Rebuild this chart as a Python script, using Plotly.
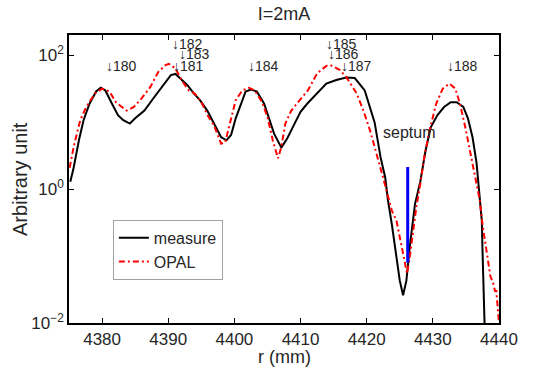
import plotly.graph_objects as go
import math

# ---- data ----
r_measure = [4375.2, 4375.7, 4376.5, 4377.2, 4378.1, 4379.1, 4379.8, 4380.5, 4381.5, 4382.4,
             4383.2, 4384.2, 4385.0, 4386.4, 4387.9, 4389.3, 4390.4, 4391.1, 4391.8, 4392.9,
             4393.9, 4394.8, 4395.9, 4396.9, 4398.0, 4398.8, 4399.5, 4400.2, 4401.0, 4401.7,
             4402.5, 4403.4, 4404.5, 4405.2, 4406.0, 4407.1, 4408.0, 4409.1, 4410.0, 4411.0,
             4412.5, 4413.9, 4415.4, 4416.9, 4418.2, 4419.7, 4421.2, 4422.1, 4422.8, 4423.2,
             4423.8, 4424.5, 4425.0, 4425.5, 4426.0, 4426.5, 4427.0, 4427.3, 4428.1, 4428.9,
             4429.7, 4430.7, 4431.7, 4432.7, 4433.6, 4434.6, 4435.3, 4436.0, 4436.6, 4437.1,
             4437.4, 4437.5, 4437.7, 4437.9]
i_measure = [1.3, 2.1, 5.4, 10.8, 19, 29, 33, 30, 19, 12.8,
             10.8, 9.6, 11.5, 15, 24, 36, 51, 53, 45, 36,
             27, 21.5, 15, 9.6, 6, 5.4, 6.5, 11.5, 19, 29,
             31, 29, 19, 11.5, 6.8, 4.2, 5.8, 9.6, 14.4, 19,
             27, 38, 43, 47, 46, 30, 10, 3.0, 1.5, 0.7,
             0.30, 0.095, 0.043, 0.026, 0.043, 0.135, 0.38, 0.6, 1.3, 3.8,
             8.5, 12.9, 17, 20, 20, 17, 11.5, 6, 2.5, 0.8,
             0.34, 0.13, 0.03, 0.005]

r_opal = [4375.1, 4375.7, 4376.7, 4377.6, 4378.9, 4380.0, 4381.1, 4382.1, 4383.0, 4383.7,
          4384.8, 4386.0, 4387.3, 4388.5, 4389.6, 4390.1, 4391.1, 4392.0, 4393.1, 4394.0,
          4395.0, 4396.1, 4396.9, 4398.0, 4398.6, 4399.3, 4400.2, 4401.2, 4402.2, 4403.1,
          4404.2, 4405.0, 4405.8, 4406.6, 4407.1, 4407.7, 4408.6, 4409.6, 4411.1, 4412.5,
          4413.9, 4414.5, 4415.9, 4416.9, 4417.8, 4418.5, 4419.5, 4420.5, 4421.2, 4421.8,
          4422.6, 4423.0, 4423.8, 4424.5, 4425.2, 4426.1, 4426.5, 4427.0, 4427.5, 4428.1,
          4428.7, 4429.5, 4430.5, 4431.5, 4432.5, 4433.4, 4434.1, 4434.9, 4435.6, 4436.3,
          4436.8, 4437.1, 4437.5, 4438.0, 4438.3, 4438.7, 4439.1, 4439.4, 4439.6, 4439.85,
          4440.0]
i_opal = [2.1, 4.3, 10.8, 17, 27, 32, 29, 20, 17, 15,
          17, 23, 34, 57, 72, 75, 64, 43, 30, 27,
          20, 12, 9.1, 4.8, 5.0, 9.6, 21.5, 30, 33, 30,
          20, 12, 5.4, 2.9, 4.3, 9.6, 15, 20, 30, 54,
          70, 72, 61, 48, 35, 27, 15, 7.6, 4.3, 2.7,
          1.35, 0.95, 0.48, 0.34, 0.15, 0.055, 0.095, 0.24, 0.54, 1.2,
          3, 7.6, 19, 32, 38, 32, 19, 8.5, 3.8, 1.9,
          1.0, 0.68, 0.30, 0.135, 0.085, 0.05, 0.04, 0.03, 0.03, 0.014,
          0.01]

septum_r = [4426.2, 4426.2]
septum_i = [2.15, 0.08]

turn_labels = ['↓180', '↓182', '↓183', '↓181', '↓184', '↓185', '↓186', '↓187', '↓188']
turn_r = [4380.8, 4390.75, 4391.75, 4390.85, 4402.2, 4414.1, 4414.4, 4416.3, 4432.3]
turn_i = [70, 150, 106, 70, 70, 150, 106, 70, 70]

x_ticks = [4380, 4390, 4400, 4410, 4420, 4430, 4440]
y_ticks = [0.01, 1, 100]
y_ticktext = ['10<sup>−2</sup>', '10<sup>0</sup>', '10<sup>2</sup>']

FONT = "Arial, Liberation Sans, Helvetica, sans-serif"
TXT = "#262626"

fig = go.Figure()
fig.add_trace(go.Scatter(x=r_measure, y=i_measure, mode='lines', name='measure',
                         line=dict(color='black', width=2)))
fig.add_trace(go.Scatter(x=r_opal, y=i_opal, mode='lines', name='OPAL',
                         line=dict(color='red', width=2, dash='6px,3px,2px,3px')))
fig.add_trace(go.Scatter(x=septum_r, y=septum_i, mode='lines', showlegend=False,
                         line=dict(color='blue', width=3)))

for lab, xr, yi in zip(turn_labels, turn_r, turn_i):
    fig.add_annotation(x=xr - 0.5, y=math.log10(yi), xref='x', yref='y', text=lab,
                       showarrow=False, xanchor='left', yanchor='middle',
                       font=dict(size=14, color=TXT, family=FONT))

fig.add_annotation(x=4426.4, y=math.log10(7.1), xref='x', yref='y', text='septum',
                   showarrow=False, xanchor='center', yanchor='middle',
                   font=dict(size=16, color=TXT, family=FONT))

# axis titles placed as paper annotations for precise placement
fig.add_annotation(x=0.5, y=-0.118, xref='paper', yref='paper', text='r (mm)',
                   showarrow=False, xanchor='center', yanchor='middle',
                   font=dict(size=18, color=TXT, family=FONT))
fig.add_annotation(x=-0.114, y=0.5, xref='paper', yref='paper', text='Arbitrary unit',
                   showarrow=False, xanchor='center', yanchor='middle', textangle=-90,
                   font=dict(size=20, color=TXT, family=FONT))

axis_common = dict(showline=True, linecolor='black', linewidth=1.5, mirror='ticks',
                   ticks='inside', ticklen=5, tickwidth=1, tickcolor='black',
                   showgrid=False, zeroline=False,
                   tickfont=dict(size=17, color=TXT, family=FONT))

fig.update_layout(
    width=547, height=369,
    margin=dict(l=69, r=48, t=35, b=46),
    paper_bgcolor='white', plot_bgcolor='white',
    title=dict(text='I=2mA', x=0.5, xref='paper', xanchor='center', y=0.962, yanchor='middle',
               font=dict(size=18, color=TXT, family=FONT)),
    xaxis=dict(range=[4375, 4440], tickvals=x_ticks, **axis_common),
    yaxis=dict(type='log', range=[-2, 2.307], tickvals=y_ticks, ticktext=y_ticktext,
               **axis_common),
    legend=dict(x=0.102, y=0.358, xanchor='left', yanchor='top',
                bordercolor='#a0a0a0', borderwidth=1, bgcolor='white',
                font=dict(size=16, color=TXT, family=FONT), itemwidth=30,
                tracegroupgap=0),
    showlegend=True,
)

fig.write_html("out.html", config={'displayModeBar': False},
               post_script="document.body.style.margin='0px';")
